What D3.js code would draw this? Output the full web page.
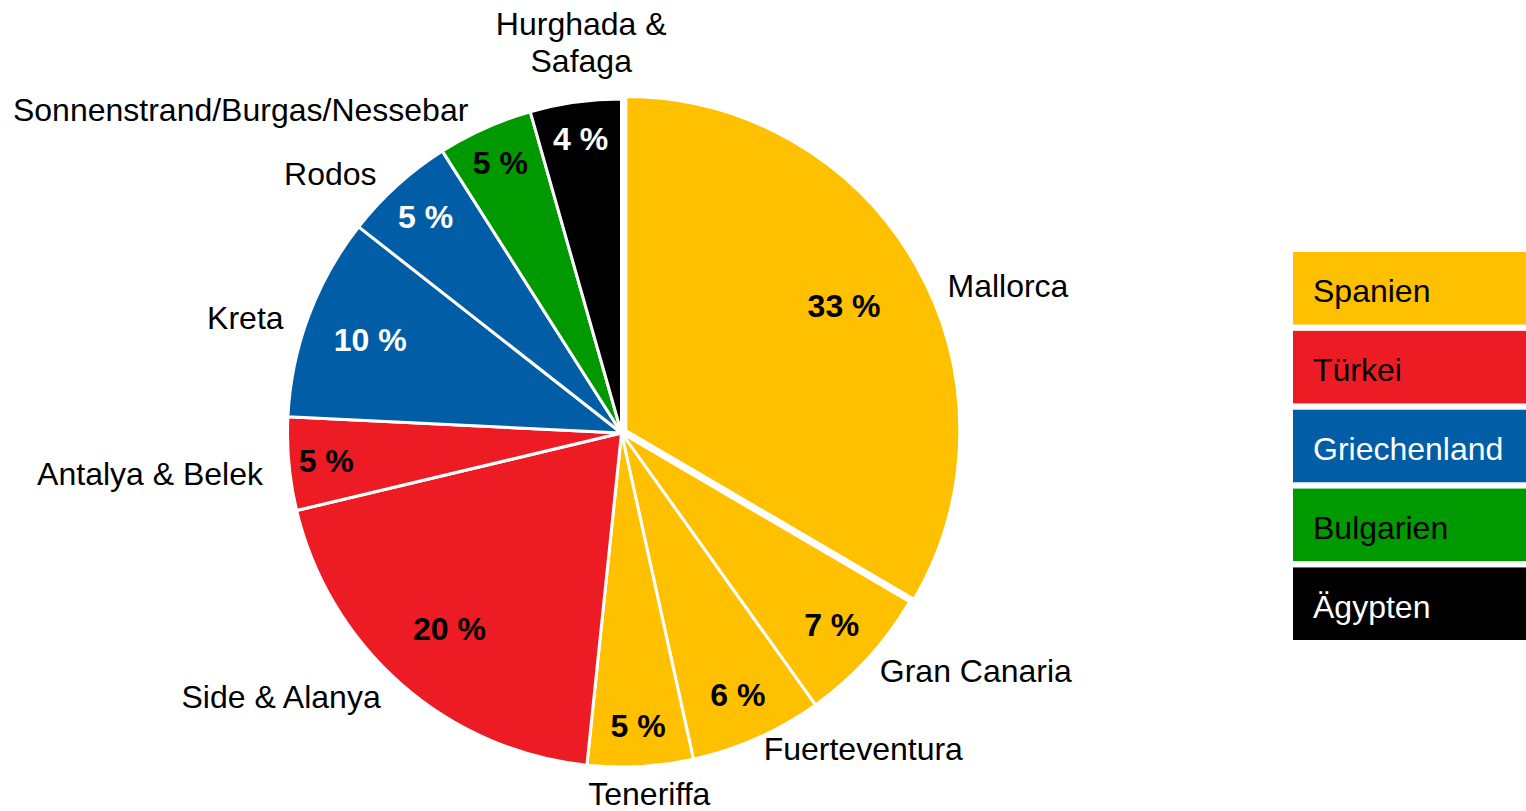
<!DOCTYPE html>
<html>
<head>
<meta charset="utf-8">
<script src="https://cdn.jsdelivr.net/npm/d3@7"></script>
<style>
  body { margin: 0; background: #fff; }
  svg { display: block; font-family: "Liberation Sans", Arial, sans-serif; }
</style>
</head>
<body>
<svg id="chart" width="1526" height="811"></svg>
<script>
// regions in clockwise order from 12 o'clock
var regions = ["Mallorca", "Gran Canaria", "Fuerteventura", "Teneriffa", "Side & Alanya",
               "Antalya & Belek", "Kreta", "Rodos", "Sonnenstrand/Burgas/Nessebar", "Hurghada &\nSafaga"];
var shares = [33.4, 6.7, 6.4, 5.1, 19.6, 4.5, 9.8, 5.4, 4.6, 4.4];
var regionCountry = ["Spanien", "Spanien", "Spanien", "Spanien", "Türkei",
                     "Türkei", "Griechenland", "Griechenland", "Bulgarien", "Ägypten"];
var countries = ["Spanien", "Türkei", "Griechenland", "Bulgarien", "Ägypten"];
var countryColors = ["#FFC000", "#ED1C24", "#005DA6", "#009A00", "#000000"];
var countryText = ["#000", "#000", "#fff", "#000", "#fff"];

var svg = d3.select("#chart"),
    cx = 621.5,
    cy = 433,
    radius = 334,
    explode = 5,
    fontSize = 32;

var color = d3.scaleOrdinal().domain(countries).range(countryColors);
var textColor = d3.scaleOrdinal().domain(countries).range(countryText);

var data = regions.map(function(r, i) {
  return {name: r, value: shares[i], country: regionCountry[i]};
});

var pie = d3.pie()
    .sort(null)
    .value(function(d) { return d.value; });

var arc = d3.arc()
    .innerRadius(0)
    .outerRadius(radius);

var arcs = pie(data);

var g = svg.append("g")
    .attr("transform", "translate(" + cx + "," + cy + ")");

// Mallorca is pulled out of the pie a little
function offset(d) {
  if (d.index !== 0) return [0, 0];
  var mid = (d.startAngle + d.endAngle) / 2;
  return [explode * Math.sin(mid), -explode * Math.cos(mid)];
}

// where the percent goes: small slices get it nearer the rim
function labelFactor(d) {
  var frac = (d.endAngle - d.startAngle) / (2 * Math.PI);
  if (frac > 0.1) return 0.8 - 0.2 * (frac - 0.1);
  return 0.8 + 1.6 * (0.1 - frac);
}

var slices = g.selectAll("g.slice")
    .data(arcs)
    .enter()
    .append("g")
    .attr("class", "slice")
    .attr("transform", function(d) { var o = offset(d); return "translate(" + o[0] + "," + o[1] + ")"; });

slices.append("path")
    .attr("d", arc)
    .attr("fill", function(d) { return color(d.data.country); })
    .attr("stroke", "#fff")
    .attr("stroke-width", 3)
    .attr("stroke-linejoin", "round");

slices.append("text")
    .attr("x", function(d) {
      var mid = (d.startAngle + d.endAngle) / 2;
      return radius * labelFactor(d) * Math.sin(mid);
    })
    .attr("y", function(d) {
      var mid = (d.startAngle + d.endAngle) / 2;
      return -radius * labelFactor(d) * Math.cos(mid);
    })
    .attr("dy", "0.35em")
    .attr("text-anchor", "middle")
    .attr("font-size", fontSize)
    .attr("font-weight", "bold")
    .attr("fill", function(d) { return textColor(d.data.country); })
    .text(function(d) { return Math.round(d.data.value) + " %"; });

// category labels outside the pie
slices.each(function(d) {
  var mid = (d.startAngle + d.endAngle) / 2,
      s = Math.sin(mid),
      c = -Math.cos(mid),
      R = radius + 16,
      px = R * s,
      py = R * c,
      lines = d.data.name.split("\n"),
      lineH = 37,
      anchor, baseline;

  if (Math.abs(s) < 0.3) {
    anchor = "middle";
    px += 8;
    if (c < 0) baseline = py - 14 - (lines.length - 1) * lineH;
    else baseline = py + 23;
  } else {
    anchor = s > 0 ? "start" : "end";
    px += s > 0 ? 0 : -10;
    baseline = py + 20 - 15 * c * c - (lines.length - 1) * lineH / 2;
    // upper right quadrant sits lower and further out
    if (s > 0 && c < 0) { px += 18; baseline += 24; }
  }

  var t = d3.select(this).append("text")
      .attr("text-anchor", anchor)
      .attr("font-size", fontSize)
      .attr("fill", "#000");

  t.selectAll("tspan")
    .data(lines)
    .enter()
    .append("tspan")
    .attr("x", px)
    .attr("y", function(l, i) { return baseline + i * lineH; })
    .text(function(l) { return l; });
});

// legend
var ylegend = d3.scaleBand()
    .domain(countries)
    .range([252, 640])
    .paddingInner(0.08);

var legend = svg.append("g")
    .selectAll("g")
    .data(countries)
    .enter()
    .append("g")
    .attr("transform", function(d) { return "translate(1293," + ylegend(d) + ")"; });

legend.append("rect")
    .attr("width", 240)
    .attr("height", ylegend.bandwidth())
    .attr("fill", function(d) { return color(d); });

legend.append("text")
    .attr("x", 20)
    .attr("y", ylegend.bandwidth() / 2 + 14)
    .attr("font-size", fontSize)
    .attr("fill", function(d) { return textColor(d); })
    .text(function(d) { return d; });
</script>
</body>
</html>
